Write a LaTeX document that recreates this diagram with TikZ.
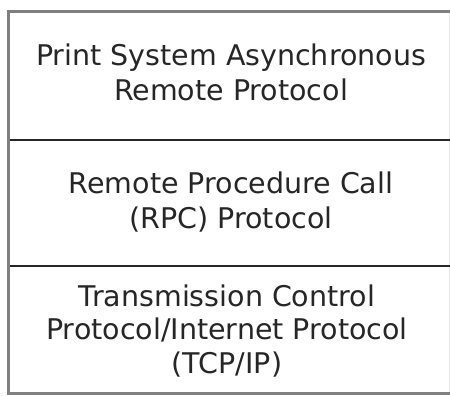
\documentclass[tikz,border=0pt]{standalone}
\usepackage{fontspec}
\setmainfont{DejaVu Sans}
\begin{document}
\begin{tikzpicture}[x=1pt,y=-1pt,
  lbl/.style={align=center,font=\fontsize{28.5}{34.5}\selectfont,inner sep=0pt,text=black!85},
  border/.style={line width=3pt,gray},
  divider/.style={line width=2pt,black!85}]
\useasboundingbox (0,0) rectangle (450,396);
\fill[white] (0,0) rectangle (450,396);
\coordinate (tr) at (450,12);
\coordinate (tl) at (8.5,12);
\coordinate (bl) at (8.5,393.5);
\coordinate (br) at (450,393.5);
\draw[border] (tr) -- (tl) -- (bl) -- (br);
\draw[line width=0.7pt,black!10] (449,13.5) -- (449,392);
\coordinate (d1l) at (10,139.5);
\coordinate (d1r) at (450,139.5);
\coordinate (d2l) at (10,266);
\coordinate (d2r) at (450,266);
\draw[divider] (d1l) -- (d1r);
\draw[divider] (d2l) -- (d2r);
\node[lbl] (a) at (231,72.5) {Print System Asynchronous\\Remote Protocol};
\node[lbl] (b) at (231,202) {Remote Procedure Call\\(RPC) Protocol};
\node[lbl,font=\fontsize{28.5}{33.5}\selectfont] (c) at (227,331) {Transmission Control\\Protocol/Internet Protocol\\(TCP/IP)};
\end{tikzpicture}
\end{document}
